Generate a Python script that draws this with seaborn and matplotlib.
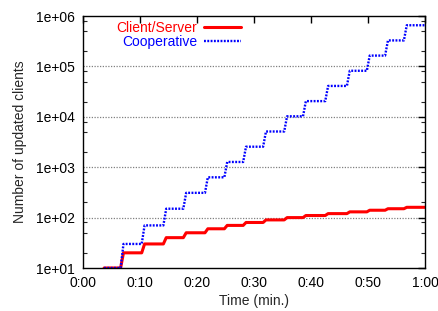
import matplotlib
matplotlib.use("Agg")
import matplotlib.pyplot as plt
import matplotlib.ticker as mticker
import seaborn as sns
import pandas as pd

# values (time in seconds)
start_time = 3.7
end_time = 60.0
rise_times = [6.6, 10.3, 14.1, 17.6, 21.4, 24.8, 28.1, 31.6, 35.3, 38.6,
              42.5, 46.3, 49.8, 53.0, 56.3]
client_server = [10, 20, 30, 40, 50, 60, 70, 80, 90, 100, 110, 120, 130, 140, 150, 160]
cooperative = [10, 30, 70, 150, 310, 630, 1270, 2550, 5110, 10230, 20470,
               40950, 81910, 163830, 327670, 655350]
ramp = 0.5  # the steps are slightly slanted in the original


def staircase(levels):
    t = [start_time]
    v = [levels[0]]
    for i, rt in enumerate(rise_times):
        t += [rt, rt + ramp]
        v += [levels[i], levels[i + 1]]
    t.append(end_time)
    v.append(levels[-1])
    return pd.DataFrame({"t": t, "n": v})


df_cs = staircase(client_server)
df_coop = staircase(cooperative)

sns.set_style("white")
plt.rcParams['font.family'] = ['Liberation Sans', 'DejaVu Sans']
plt.rcParams['font.size'] = 10

fig = plt.figure(figsize=(4.38, 3.11), dpi=100)
ax = fig.add_axes([83 / 438, 1 - 268 / 311, 342 / 438, 252 / 311])

sns.lineplot(data=df_cs, x="t", y="n", ax=ax, color="#ff0000", linewidth=2.2,
             estimator=None, sort=False, label="Client/Server")
sns.lineplot(data=df_coop, x="t", y="n", ax=ax, color="#0000ff", linewidth=1.7,
             estimator=None, sort=False, label="Cooperative", dashes=False)
ax.lines[1].set_linestyle((0, (0.8, 0.6)))

ax.set_yscale("log")
ax.set_ylim(10, 1e6)
ax.set_xlim(0, 60)

ax.xaxis.set_major_locator(mticker.MultipleLocator(10))
ax.xaxis.set_major_formatter(mticker.FuncFormatter(lambda s, p: f"{int(s // 60)}:{int(s % 60):02d}"))
ax.yaxis.set_major_locator(mticker.LogLocator(base=10, numticks=10))
ax.yaxis.set_minor_locator(mticker.LogLocator(base=10, subs=(2, 5, 8), numticks=20))
ax.yaxis.set_minor_formatter(mticker.NullFormatter())
ax.yaxis.set_major_formatter(mticker.FuncFormatter(lambda v, p: f"{v:.0e}"))

ax.tick_params(axis="both", which="major", direction="in", length=5, width=1,
               top=True, right=True, pad=6, colors="black", labelsize=10)
ax.tick_params(axis="y", which="minor", direction="in", length=3, width=0.8,
               left=True, right=True)
for s in ax.spines.values():
    s.set_color("black")
    s.set_linewidth(1)

# dotted horizontal grid at the inner decades
for yv in [1e2, 1e3, 1e4, 1e5]:
    ax.axhline(yv, color="#808080", linestyle=(0, (1, 1.2)), linewidth=0.9, zorder=0)

ax.set_xlabel("Time (min.)", fontsize=10, labelpad=3)
ax.set_ylabel("Number of updated clients", fontsize=10, labelpad=6)

ax.legend(loc="upper right", bbox_to_anchor=(0.463, 0.98), frameon=False,
          markerfirst=False, labelcolor="linecolor", handlelength=2.7,
          handletextpad=0.5, labelspacing=0.0, borderpad=0, borderaxespad=0,
          fontsize=10)

fig.savefig("out.png", dpi=100)
